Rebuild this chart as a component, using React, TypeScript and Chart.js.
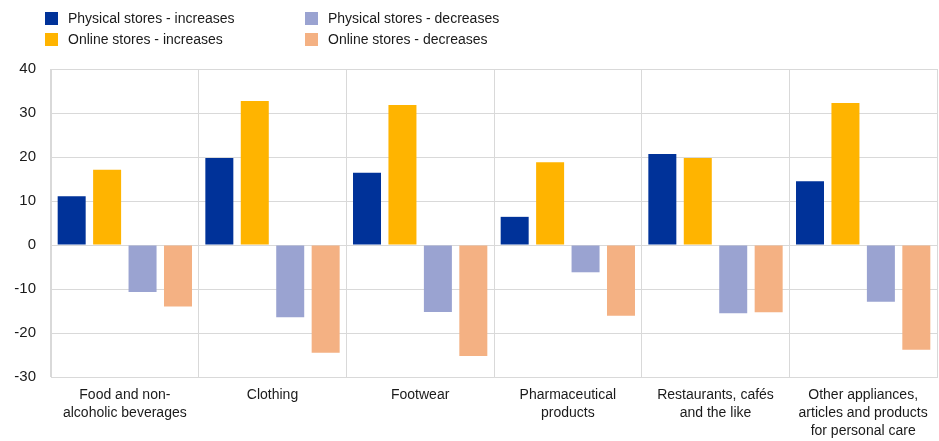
import React, { useEffect, useRef } from "react";
import { Chart, registerables } from "chart.js";

Chart.register(...registerables);

const categories: string[][] = [
  ["Food and non-", "alcoholic beverages"],
  ["Clothing"],
  ["Footwear"],
  ["Pharmaceutical", "products"],
  ["Restaurants, cafés", "and the like"],
  ["Other appliances,", "articles and products", "for personal care"],
];

const physicalIncreases = [11.1, 19.8, 16.4, 6.4, 20.7, 14.5];
const onlineIncreases = [17.1, 32.7, 31.8, 18.8, 19.8, 32.3];
const physicalDecreases = [-10.7, -16.4, -15.2, -6.2, -15.5, -12.9];
const onlineDecreases = [-14.0, -24.5, -25.2, -16.1, -15.3, -23.8];

const seriesNames = [
  "Physical stores - increases",
  "Online stores - increases",
  "Physical stores - decreases",
  "Online stores - decreases",
];
const seriesColors = ["#003299", "#FFB400", "#9AA3D1", "#F4B183"];

const FONT = "'Liberation Sans', Arial, sans-serif";
const TEXT = "#1a1a1a";
const GRID = "#d9d9d9";

export default function App() {
  const ref = useRef<HTMLCanvasElement | null>(null);

  useEffect(() => {
    if (!ref.current) return;
    const values = [physicalIncreases, onlineIncreases, physicalDecreases, onlineDecreases];
    const chart = new Chart(ref.current, {
      type: "bar",
      data: {
        labels: categories,
        datasets: values.map((v, i) => ({
          label: seriesNames[i],
          data: v,
          backgroundColor: seriesColors[i],
          borderWidth: 0,
          categoryPercentage: 0.96,
          barPercentage: 0.79,
        })),
      },
      options: {
        responsive: false,
        animation: false,
        layout: { padding: { top: 69, right: 2, left: 0, bottom: 0 } },
        plugins: { legend: { display: false }, tooltip: { enabled: false } },
        scales: {
          x: {
            afterFit: (s: any) => {
              s.height = 64;
            },
            grid: { color: GRID, lineWidth: 1, drawTicks: false, offset: true },
            border: { color: GRID },
            ticks: {
              color: TEXT,
              font: { family: FONT, size: 14, lineHeight: 1.29 },
              padding: 9,
              maxRotation: 0,
              autoSkip: false,
            },
          },
          y: {
            min: -30,
            max: 40,
            afterFit: (s: any) => {
              s.width = 51;
            },
            grid: { color: GRID, lineWidth: 1, drawTicks: false },
            border: { color: GRID },
            ticks: {
              stepSize: 10,
              color: TEXT,
              font: { family: FONT, size: 15 },
              padding: 15,
            },
          },
        },
      },
    });
    return () => chart.destroy();
  }, []);

  const legendItem = (i: number, left: number, top: number) => (
    <div
      key={i}
      style={{
        position: "absolute",
        left,
        top,
        display: "flex",
        alignItems: "center",
        fontFamily: FONT,
        fontSize: 14,
        color: TEXT,
        whiteSpace: "nowrap",
      }}
    >
      <span
        style={{
          display: "inline-block",
          width: 13,
          height: 13,
          background: seriesColors[i],
          marginRight: 10,
        }}
      />
      <span>{seriesNames[i]}</span>
    </div>
  );

  return (
    <div
      style={{
        position: "absolute",
        left: 0,
        top: 0,
        width: 939,
        height: 441,
        background: "#fff",
        overflow: "hidden",
      }}
    >
      <canvas ref={ref} width={939} height={441} style={{ position: "absolute", left: 0, top: 0 }} />
      {legendItem(0, 45, 10)}
      {legendItem(1, 45, 31)}
      {legendItem(2, 305, 10)}
      {legendItem(3, 305, 31)}
    </div>
  );
}
